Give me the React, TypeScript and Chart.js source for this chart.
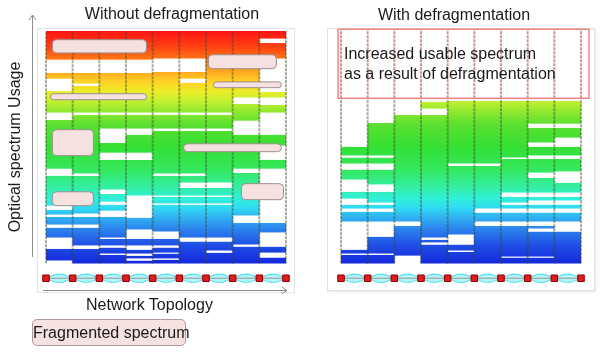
import React, { useEffect, useRef } from "react";
import { Chart, registerables } from "chart.js";

Chart.register(...registerables);

// ---------------- DATA ----------------
// Network topology: 10 nodes joined by 9 links (one spectrum column per link)
const nodes = [0, 1, 2, 3, 4, 5, 6, 7, 8, 9];
const links = ["L1", "L2", "L3", "L4", "L5", "L6", "L7", "L8", "L9"];

// Spectrum usage in % of the band (0 = bottom/blue, 100 = top/red).
// Top of the used spectrum per link
const leftTops = [100, 100, 100, 100, 100, 100, 100, 100, 100];
// Free (unused) spectrum slots per link, [from, to] in %
const leftGaps: number[][][] = [
  [[81.9, 87.9], [74.1, 79.7], [61.6, 65.1], [37.5, 40.9], [22.8, 25.0], [19.8, 21.1], [15.1, 16.8], [6.0, 11.2], [0, 1.3]],
  [[81.9, 87.9], [76.3, 77.6], [63.8, 65.1], [37.5, 38.8], [19.8, 21.6], [15.1, 16.8], [6.0, 7.8]],
  [[81.9, 87.9], [63.8, 65.1], [51.7, 58.2], [44.4, 47.8], [29.7, 31.9], [25.0, 26.7], [19.8, 22.8], [10.3, 11.2], [6.5, 7.8], [3.4, 4.3]],
  [[81.9, 87.9], [63.8, 65.1], [55.2, 58.2], [44.4, 47.8], [19.4, 29.3], [10.3, 14.7], [5.6, 7.8], [3.0, 4.3], [0.9, 2.2]],
  [[82.3, 88.4], [63.8, 65.1], [56.9, 58.2], [37.5, 38.8], [28.4, 29.3], [25.0, 25.9], [10.3, 13.8], [6.5, 7.8], [3.9, 4.7], [1.3, 2.2]],
  [[82.3, 88.4], [77.6, 79.7], [63.8, 65.1], [56.9, 58.2], [37.5, 38.8], [32.3, 34.9], [28.4, 29.3], [25.0, 25.9], [9.1, 11.2]],
  [[63.8, 65.1], [56.9, 58.2], [32.3, 34.9], [28.4, 29.3], [25.0, 25.9], [9.1, 11.2], [4.3, 5.6]],
  [[68.5, 71.6], [55.2, 61.6], [38.8, 40.9], [17.2, 20.7], [6.9, 8.2]],
  [[94.8, 97.0], [73.7, 88.4], [68.1, 71.6], [55.2, 65.1], [44.4, 50.9], [17.2, 40.9], [6.9, 13.4], [2.2, 4.7]],
];

const rightTops = [50.0, 60.3, 63.8, 69.4, 69.8, 69.8, 69.8, 69.8, 69.8];
const rightGaps: number[][][] = [
  [[45.3, 46.6], [40.1, 43.1], [30.6, 36.2], [25.0, 28.0], [22.0, 23.7], [5.6, 18.1], [3.4, 4.3]],
  [[45.3, 46.6], [40.1, 43.1], [30.6, 34.1], [25.0, 26.3], [22.0, 23.7], [11.2, 18.1], [3.4, 4.3]],
  [[15.9, 18.1], [0, 3.4]],
  [[63.8, 66.8], [9.9, 11.2], [7.8, 9.1]],
  [[41.8, 43.1], [7.8, 12.5], [4.7, 5.6]],
  [[41.8, 43.1], [21.6, 23.7], [15.9, 18.1]],
  [[44.8, 45.7], [28.4, 30.6], [25.0, 26.3], [21.6, 23.7], [15.9, 18.1], [2.2, 3.0]],
  [[58.2, 60.3], [50.0, 52.2], [44.8, 46.6], [36.6, 39.2], [28.4, 30.6], [25.0, 27.2], [21.6, 23.7], [15.9, 18.1], [13.4, 15.1], [2.2, 3.0]],
  [[58.2, 60.3], [50.0, 54.3], [44.8, 46.6], [34.5, 39.7], [28.4, 30.6], [25.0, 27.2], [21.6, 23.7], [13.4, 18.1]],
];

// Fragmented spectrum blocks: [fromLink, toLink, from %, to %]
const fragmentedBlocks: number[][] = [
  [0.22, 3.75, 90.9, 96.6],
  [0.15, 3.75, 70.7, 73.3],
  [0.22, 1.76, 46.6, 57.8],
  [0.22, 1.76, 25.0, 31.0],
  [6.07, 8.62, 84.1, 90.1],
  [6.26, 8.81, 75.9, 78.4],
  [5.14, 8.81, 48.3, 51.7],
  [7.31, 8.89, 27.6, 34.5],
];

// Reclaimed spectrum after defragmentation: [fromLink, toLink, from %, to %]
const reclaimedRegion = [-0.11, 9.3, 71.1, 100.9];

// ---------------- STYLE ----------------
const FONT = '"Liberation Sans", Arial, sans-serif';
const NODE_LEVEL = -6.5;
const Y_MIN = -12;
const Y_MAX = 101;
const LINE_COLOR = "rgba(60,70,35,0.45)";
const LINE_COLOR_BOX = "rgba(170,80,60,0.6)";
const gradStops: [number, string][] = [
  [0, "#1428dc"], [8, "#2050e6"], [15, "#2c86ee"], [20, "#30b4f2"], [24, "#30dcf2"],
  [28, "#30f0d8"], [34, "#34ee98"], [40, "#34e860"], [50, "#34e034"], [60, "#5ce030"],
  [66, "#96ea30"], [70, "#c4f030"], [74, "#ecec28"], [78, "#ffd424"], [82, "#ffae20"],
  [88, "#ff7818"], [93, "#ff4412"], [100, "#ff1414"],
];

function occupied(tops: number[], gaps: number[][][]) {
  const pts: { x: number; y: number[] }[] = [];
  tops.forEach((top, i) => {
    const g = [...gaps[i]].sort((a, b) => a[0] - b[0]);
    let cur = 0;
    for (const [lo, hi] of g) {
      if (lo > cur) pts.push({ x: i + 0.5, y: [cur, Math.min(lo, top)] });
      cur = Math.max(cur, hi);
    }
    if (cur < top) pts.push({ x: i + 0.5, y: [cur, top] });
  });
  return pts;
}

function spectrumFill(ctx: any) {
  const chart = ctx.chart;
  const y = chart.scales && chart.scales.y;
  if (!y || !chart.chartArea) return "#34e034";
  const g = chart.ctx.createLinearGradient(0, y.getPixelForValue(0), 0, y.getPixelForValue(100));
  gradStops.forEach(([v, c]) => g.addColorStop(v / 100, c));
  return g;
}

function topologyDatasets() {
  const upper: any[] = [];
  const lower: any[] = [];
  for (let k = 0; k < nodes.length - 1; k++) {
    upper.push({ x: nodes[k], y: NODE_LEVEL }, { x: nodes[k] + 0.5, y: NODE_LEVEL + 1.8 }, { x: nodes[k + 1], y: NODE_LEVEL }, { x: nodes[k + 1], y: null });
    lower.push({ x: nodes[k], y: NODE_LEVEL }, { x: nodes[k] + 0.5, y: NODE_LEVEL - 1.8 }, { x: nodes[k + 1], y: NODE_LEVEL }, { x: nodes[k + 1], y: null });
  }
  return [
    {
      type: "line", label: "Nodes", order: 0, clip: false,
      data: nodes.map((n) => ({ x: n, y: NODE_LEVEL })),
      showLine: false, pointStyle: "rect", pointRadius: 4.6,
      pointBackgroundColor: "#e41b1b", pointBorderColor: "#8b0000", pointBorderWidth: 1,
    },
    {
      type: "line", label: "Links", order: 1, clip: false,
      data: nodes.map((n) => ({ x: n, y: NODE_LEVEL })),
      borderColor: "#9a9a9a", borderWidth: 1, pointRadius: 0,
    },
    {
      type: "line", label: "Lightpaths upper", order: 2, clip: false,
      data: upper, borderColor: "rgba(40,215,235,0.9)", borderWidth: 1, pointRadius: 0,
      tension: 0.45, fill: "+1", backgroundColor: "rgba(120,236,246,0.55)",
    },
    {
      type: "line", label: "Lightpaths lower", order: 2, clip: false,
      data: lower, borderColor: "rgba(40,215,235,0.9)", borderWidth: 1, pointRadius: 0,
      tension: 0.45, fill: false,
    },
  ];
}

function boundaryDatasets(top: number, split: number | null) {
  return nodes.map((n) => ({
    type: "line", label: "Link " + n, order: 3, clip: false,
    data: split === null
      ? [{ x: n, y: 0 }, { x: n, y: top }]
      : [{ x: n, y: 0 }, { x: n, y: split }, { x: n, y: top }],
    borderColor: LINE_COLOR,
    segment: {
      borderColor: (c: any) => (split !== null && c.p0DataIndex === 1 ? LINE_COLOR_BOX : LINE_COLOR),
    },
    borderWidth: 2, borderDash: [3, 1], pointRadius: 0,
  }));
}

const fragmentPlugin = {
  id: "fragments",
  afterDatasetsDraw(chart: any) {
    const { ctx, scales } = chart;
    ctx.save();
    fragmentedBlocks.forEach(([x0, x1, lo, hi]) => {
      const l = scales.x.getPixelForValue(x0);
      const r = scales.x.getPixelForValue(x1);
      const t = scales.y.getPixelForValue(hi);
      const b = scales.y.getPixelForValue(lo);
      ctx.beginPath();
      ctx.roundRect(l + 0.5, t + 0.5, r - l, b - t, 4);
      ctx.fillStyle = "#f6e1e1";
      ctx.fill();
      ctx.strokeStyle = "#9d8d8d";
      ctx.lineWidth = 1;
      ctx.stroke();
    });
    ctx.restore();
  },
  afterDraw(chart: any) {
    const { ctx, chartArea } = chart;
    ctx.save();
    ctx.strokeStyle = "#8e8e8e";
    ctx.lineWidth = 1;
    const ax = chartArea.left - 13.5;
    ctx.beginPath();
    ctx.moveTo(ax, chartArea.top + 228);
    ctx.lineTo(ax, chartArea.top - 14);
    ctx.moveTo(ax - 3.5, chartArea.top - 9);
    ctx.lineTo(ax, chartArea.top - 14);
    ctx.lineTo(ax + 3.5, chartArea.top - 9);
    const ay = chartArea.bottom - 0.5;
    ctx.moveTo(chartArea.left - 3, ay);
    ctx.lineTo(chartArea.right + 1, ay);
    ctx.moveTo(chartArea.right - 4, ay - 3.5);
    ctx.lineTo(chartArea.right + 1, ay);
    ctx.lineTo(chartArea.right - 4, ay + 3.5);
    ctx.stroke();
    ctx.restore();
  },
};

const reclaimPlugin = {
  id: "reclaim",
  afterDatasetsDraw(chart: any) {
    const { ctx, scales } = chart;
    const [x0, x1, lo, hi] = reclaimedRegion;
    const l = scales.x.getPixelForValue(x0);
    const r = scales.x.getPixelForValue(x1);
    const t = scales.y.getPixelForValue(hi);
    const b = scales.y.getPixelForValue(lo);
    ctx.save();
    ctx.strokeStyle = "#ee8585";
    ctx.lineWidth = 1.5;
    ctx.strokeRect(l, t, r - l, b - t);
    ctx.restore();
  },
};

function buildConfig(side: "left" | "right") {
  const isLeft = side === "left";
  const tops = isLeft ? leftTops : rightTops;
  const gaps = isLeft ? leftGaps : rightGaps;
  return {
    type: "bar",
    data: {
      labels: links,
      datasets: [
        {
          type: "bar", label: "Occupied spectrum", order: 5,
          data: occupied(tops, gaps),
          backgroundColor: spectrumFill,
          borderWidth: 0, barPercentage: 1, categoryPercentage: 1, grouped: false,
        },
        ...boundaryDatasets(isLeft ? 100 : reclaimedRegion[3], isLeft ? null : reclaimedRegion[2]),
        ...topologyDatasets(),
      ],
    },
    options: {
      animation: false,
      responsive: false,
      events: [],
      layout: { padding: { left: isLeft ? 46 : 41, right: isLeft ? 14 : 19, top: 29, bottom: 9 } },
      plugins: { legend: { display: false }, tooltip: { enabled: false }, title: { display: false } },
      scales: {
        x: { type: "linear", min: 0, max: 9, display: false, offset: false },
        y: { type: "linear", min: Y_MIN, max: Y_MAX, display: false },
      },
    },
    plugins: [isLeft ? fragmentPlugin : reclaimPlugin],
  };
}

function Panel({ side, left }: { side: "left" | "right"; left: number }) {
  const ref = useRef<HTMLCanvasElement>(null);
  useEffect(() => {
    if (!ref.current) return;
    const chart = new Chart(ref.current, buildConfig(side) as any);
    return () => chart.destroy();
  }, [side]);
  return (
    <canvas
      ref={ref}
      width={300}
      height={300}
      style={{ position: "absolute", left, top: 0, width: 300, height: 300 }}
    />
  );
}

const textStyle: React.CSSProperties = {
  position: "absolute",
  fontFamily: FONT,
  fontSize: 16,
  lineHeight: "18px",
  color: "#1a1a1a",
  whiteSpace: "nowrap",
};

export default function App() {
  return (
    <div
      style={{
        position: "fixed", left: 0, top: 0, width: 600, height: 360,
        background: "#ffffff", overflow: "hidden",
      }}
    >
      <div style={{ position: "absolute", left: 37, top: 28, width: 258, height: 265, border: "1px solid #e3e3e3", boxSizing: "border-box" }} />
      <div style={{ position: "absolute", left: 327, top: 28, width: 268, height: 263, border: "1px solid #e0e0e0", boxSizing: "border-box", boxShadow: "1px 1px 2px rgba(0,0,0,0.10)" }} />
      <Panel side="left" left={0} />
      <Panel side="right" left={300} />
      <div style={{ ...textStyle, left: 72, top: 5, width: 200, textAlign: "center" }}>Without defragmentation</div>
      <div style={{ ...textStyle, left: 354, top: 6, width: 200, textAlign: "center" }}>With defragmentation</div>
      <div style={{ ...textStyle, left: 344, top: 43.5, lineHeight: "20px" }}>
        Increased usable spectrum
        <br />
        as a result of defragmentation
      </div>
      <div style={{ ...textStyle, left: 86, top: 295.5 }}>Network Topology</div>
      <div
        style={{
          ...textStyle, left: 14.5 - 100, top: 146.5 - 9, width: 200, textAlign: "center",
          transform: "rotate(-90deg)",
        }}
      >
        Optical spectrum Usage
      </div>
      <div
        style={{
          ...textStyle, left: 32, top: 319, width: 154, height: 27, lineHeight: "25px",
          boxSizing: "border-box", textAlign: "center", background: "#f7e2e2",
          border: "1px solid #b09a9a", borderRadius: 5,
        }}
      >
        Fragmented spectrum
      </div>
    </div>
  );
}
